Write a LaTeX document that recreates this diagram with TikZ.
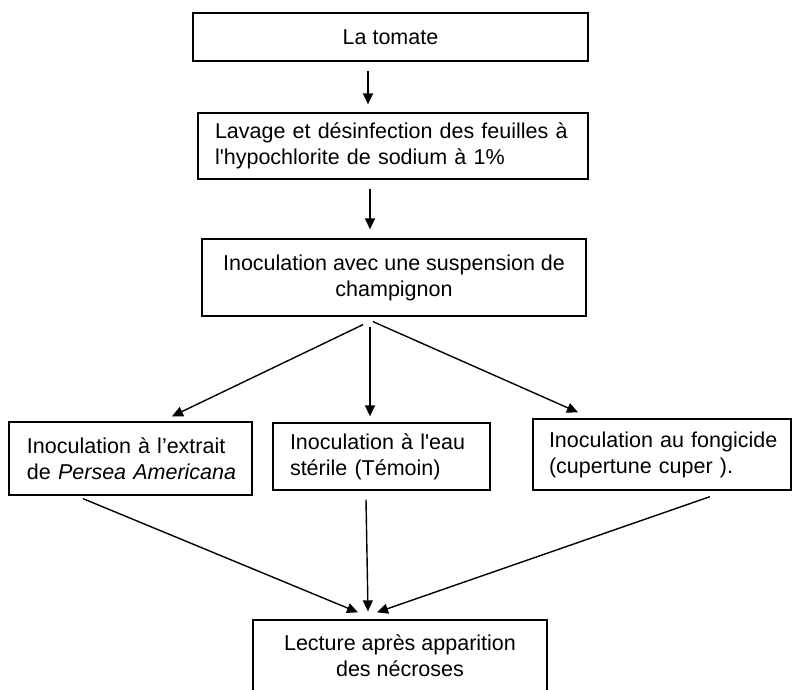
\documentclass[tikz,border=0pt]{standalone}
\usepackage{fontspec}
\setmainfont{Liberation Sans}
\usepackage{tikz}
\usetikzlibrary{arrows.meta}
\newcommand{\boxfont}{\fontsize{21.5pt}{26pt}\selectfont}
\tikzset{
  box/.style={draw, line width=1.3pt, inner sep=0pt, align=center, font=\boxfont},
  lbox/.style={draw, line width=1.3pt, inner xsep=#1, inner ysep=0pt, align=left, font=\boxfont},
  flow/.style={-{Triangle[length=11pt,width=10pt]}, line width=1.4pt}
}

\begin{document}
\begin{tikzpicture}[x=1pt, y=-1pt]
  \clip (0,0) rectangle (792,690);
  % etapes du protocole
  \node[box, minimum width=395pt, minimum height=48pt] (tomate) at (390.5,37) {La tomate};
  \node[lbox=17pt, text width=356pt, minimum height=66pt] (lavage) at (393,146)
    {\mbox{Lavage et désinfection des feuilles à}\\\mbox{l\textquotesingle hypochlorite de sodium à 1\%}};
  \node[box, minimum width=384pt, minimum height=77pt] (inoc) at (394,277.5)
    {Inoculation avec une suspension de\\champignon};
  \node[lbox=18pt, text width=207pt, minimum height=73pt] (extrait) at (130.5,458.5)
    {\mbox{Inoculation à l’extrait}\\\mbox{de \textit{Persea Americana}}};
  \node[lbox=17pt, text width=183pt, minimum height=67pt] (temoin) at (381.5,456.5)
    {\mbox{Inoculation à l\textquotesingle eau}\\\mbox{stérile (Témoin)}};
  \node[lbox=16pt, text width=226pt, minimum height=71pt] (fongi) at (662,454.5)
    {\mbox{Inoculation au fongicide}\\\mbox{(cupertune cuper ).}};
  \node[box, minimum width=294pt, minimum height=72pt] (lecture) at (400,656)
    {Lecture après apparition\\des nécroses};
  % fleches
  \draw[flow] ([shift={(-22.5,9)}]tomate.south) -- ([shift={(-25,-8)}]lavage.north);
  \draw[flow] ([shift={(-23,9)}]lavage.south) -- ([shift={(-24,-9)}]inoc.north);
  \draw[flow] ([shift={(-31,8)}]inoc.south) -- ([shift={(41.5,-5)}]extrait.north);
  \draw[flow] ([shift={(-24,10)}]inoc.south) -- ([shift={(-11.5,-6)}]temoin.north);
  \draw[flow] ([shift={(-21,5)}]inoc.south) -- ([shift={(-84,-6)}]fongi.north);
  \draw[flow] ([shift={(-47.5,3)}]extrait.south) -- ([shift={(-42,-7)}]lecture.north);
  \draw[flow] ([shift={(-15.5,9)}]temoin.south) -- ([shift={(-32,-8)}]lecture.north);
  \draw[flow] ([shift={(48,6)}]fongi.south) -- ([shift={(-23,-7)}]lecture.north);
\end{tikzpicture}
\end{document}
